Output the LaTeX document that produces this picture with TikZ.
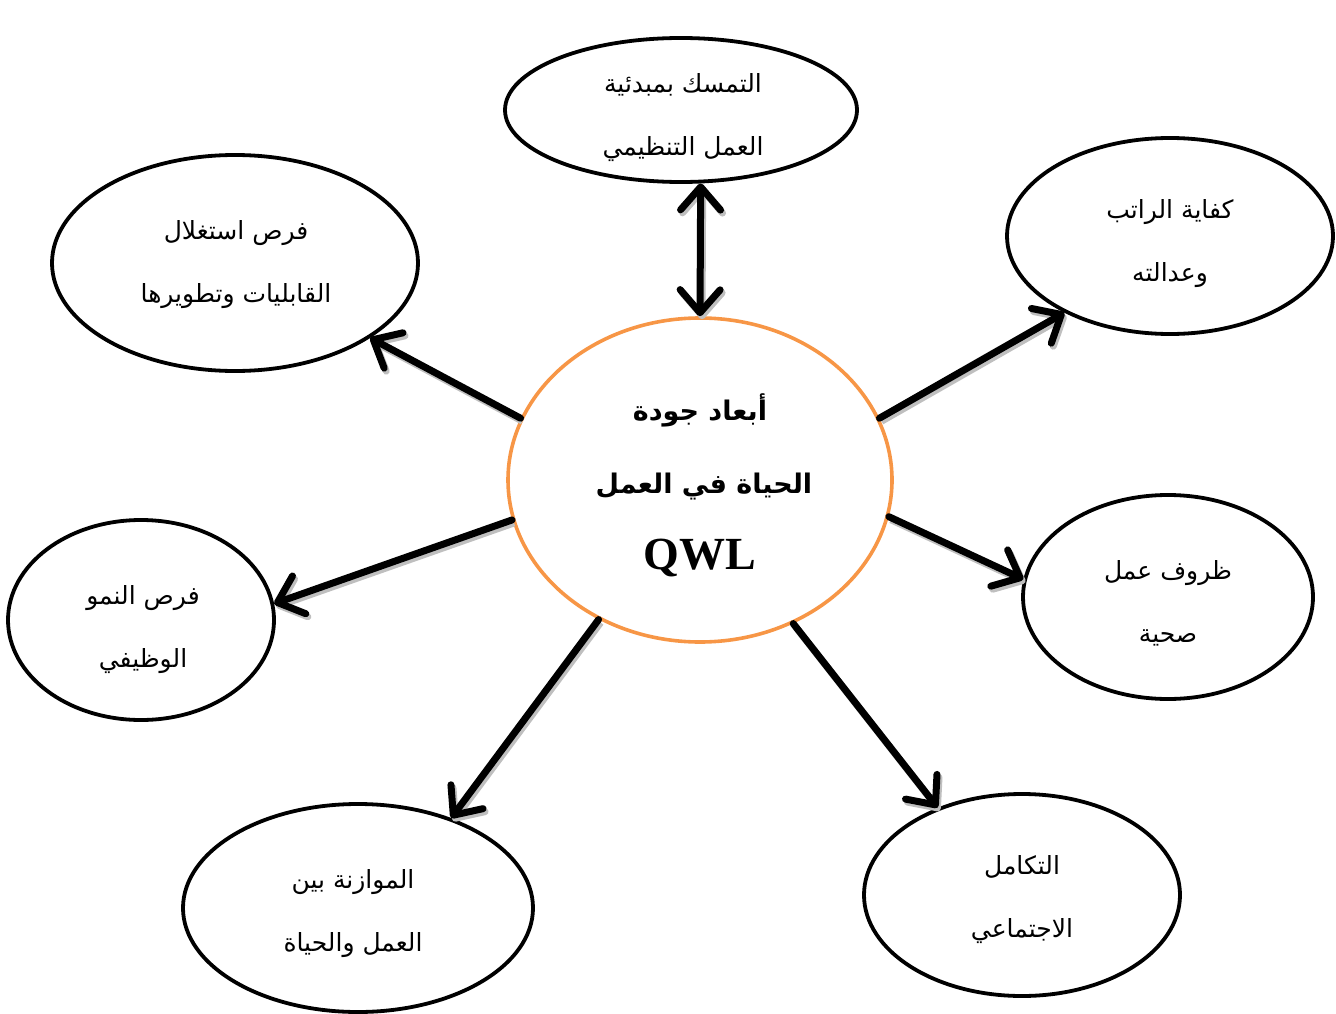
\documentclass[tikz,border=0pt]{standalone}
\usepackage{fontspec}
\setmainfont{Liberation Serif}
\newfontfamily\ar[Script=Arabic]{DejaVu Sans}
\TeXXeTstate=1
\usetikzlibrary{shapes.geometric,arrows.meta}
\definecolor{qwlorange}{RGB}{247,150,70}
\tikzset{
  dim/.style={ellipse, draw=black, line width=3.8pt, inner sep=0pt},
  dimtext/.style={inner sep=0pt, align=center, font=\ar\fontsize{25}{30}\selectfont},
  hubtext/.style={inner sep=0pt, font=\ar\bfseries\fontsize{27}{30}\selectfont},
  hub/.style={ellipse, draw=qwlorange, line width=3.6pt, inner sep=0pt,
    minimum width=384pt, minimum height=324pt},
  link/.style={line width=7pt, line cap=round,
    -{Straight Barb[length=23pt, width=40pt, round]},
    preaction={draw=black!25, line width=7pt, transform canvas={shift={(2pt,-3pt)}}}},
  duallink/.style={link, {Straight Barb[length=23pt, width=40pt, round]}-{Straight Barb[length=23pt, width=40pt, round]}}
}
\begin{document}
\begin{tikzpicture}[x=1pt, y=-1pt]
\useasboundingbox (0,0) rectangle (1336,1014);

% central concept
\node[hub] (C) at (700,480) {};
\node[hubtext] (c1) at (700,410) {\beginR أبعاد جودة\endR};
\node[hubtext] (c2) at (704,487) {\beginR الحياة في العمل\endR};
\node[font=\bfseries\fontsize{46}{48}\selectfont] (c3) at (700,558) {QWL};

% dimensions: outlines
\node[dim, minimum width=352pt, minimum height=144pt] (T) at (681,110) {};
\node[dim, minimum width=366pt, minimum height=216pt] (TL) at (235,263) {};
\node[dim, minimum width=326pt, minimum height=196pt] (TR) at (1170,236) {};
\node[dim, minimum width=266pt, minimum height=200pt] (L) at (141,620) {};
\node[dim, minimum width=290pt, minimum height=204pt] (R) at (1168,597) {};
\node[dim, minimum width=350pt, minimum height=208pt] (BL) at (358,908) {};
\node[dim, minimum width=316pt, minimum height=202pt] (BR) at (1022,895) {};

% dimensions: labels
\node[dimtext] (Tt) at (683,118)
  {\beginR التمسك بمبدئية\endR\\[33pt]\beginR العمل التنظيمي\endR};
\node[dimtext] (TLt) at (236,265)
  {\beginR فرص استغلال\endR\\[33pt]\beginR القابليات وتطويرها\endR};
\node[dimtext] (TRt) at (1170,244)
  {\beginR كفاية الراتب\endR\\[33pt]\beginR وعدالته\endR};
\node[dimtext] (Lt) at (143,630)
  {\beginR فرص النمو\endR\\[33pt]\beginR الوظيفي\endR};
\node[dimtext] (Rt) at (1168,603)
  {\beginR ظروف عمل\endR\\[33pt]\beginR صحية\endR};
\node[dimtext] (BLt) at (353,914)
  {\beginR الموازنة بين\endR\\[33pt]\beginR العمل والحياة\endR};
\node[dimtext] (BRt) at (1022,900)
  {\beginR التكامل\endR\\[33pt]\beginR الاجتماعي\endR};

% connectors
\draw[duallink] (T.-75) -- (C.north);
\draw[link] (C.161.7) -- (TL.-29.1);
\draw[link] (C.19.7) -- (TR.216.6);
\draw[link] (C.192) -- (L.7.5);
\draw[link] (C.-11.9) -- (R.173.4);
\draw[link] (C.-126.7) -- (BL.44.7);
\draw[link] (C.-57.6) -- (BR.134.7);
\end{tikzpicture}
\end{document}
